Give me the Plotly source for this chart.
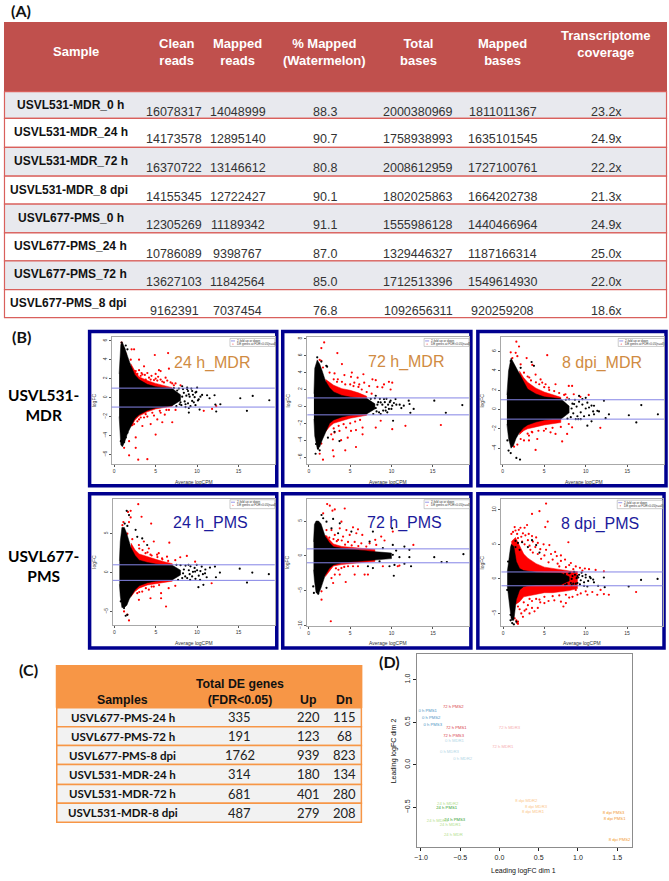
import plotly.graph_objects as go

W, H = 669, 881

# ---------- Table A ----------
A_HEADERS = ["Sample", "Clean<br>reads", "Mapped<br>reads", "% Mapped<br>(Watermelon)", "Total<br>bases", "Mapped<br>bases", "Transcriptome<br>coverage"]
A_SAMPLES = ["USVL531-MDR_0 h", "USVL531-MDR_24 h", "USVL531-MDR_72 h", "USVL531-MDR_8 dpi", "USVL677-PMS_0 h", "USVL677-PMS_24 h", "USVL677-PMS_72 h", "USVL677-PMS_8 dpi"]
A_CLEAN = ["16078317", "14173578", "16370722", "14155345", "12305269", "10786089", "13627103", "9162391"]
A_MAPPED = ["14048999", "12895140", "13146612", "12722427", "11189342", "9398767", "11842564", "7037454"]
A_PCT = ["88.3", "90.7", "80.8", "90.1", "91.1", "87.0", "85.0", "76.8"]
A_TOTAL = ["2000380969", "1758938993", "2008612959", "1802025863", "1555986128", "1329446327", "1712513396", "1092656311"]
A_MBASES = ["1811011367", "1635101545", "1727100761", "1664202738", "1440466964", "1187166314", "1549614930", "920259208"]
A_COVER = ["23.2x", "24.9x", "22.2x", "21.3x", "24.9x", "25.0x", "22.0x", "18.6x"]

# ---------- Table C ----------
C_HEADERS = ["Samples", "Total DE genes<br>(FDR<0.05)", "Up", "Dn"]
C_SAMPLES = ["USVL677-PMS-24 h", "USVL677-PMS-72 h", "USVL677-PMS-8 dpi", "USVL531-MDR-24 h", "USVL531-MDR-72 h", "USVL531-MDR-8 dpi"]
C_TOTAL = ["335", "191", "1762", "314", "681", "487"]
C_UP = ["220", "123", "939", "180", "401", "279"]
C_DN = ["115", "68", "823", "134", "280", "208"]

# ---------- MDS plot (D) ----------
MDS_LABELS = ["0 h PMS1", "0 h PMS2", "0 h PMS3", "72 h PMS2", "72 h PMS1", "72 h PMS3", "0 h MDR1", "0 h MDR3", "0 h MDR2",
              "72 h MDR3", "72 h MDR1", "8 dpi MDR2", "8 dpi MDR3", "8 dpi MDR1", "8 dpi PMS3", "8 dpi PMS1", "8 dpi PMS2",
              "24 h MDR2", "24 h PMS1", "24 h PMS3", "24 h MDR3", "24 h MDR1", "24 h MDR"]
MDS_X = [-0.914, -0.871, -0.85, -0.588, -0.55, -0.584, -0.575, -0.639, -0.47, 0.127, 0.042, 0.343, 0.465, 0.427, 1.455, 1.468, 1.531,
         -0.66, -0.673, -0.57, -0.79, -0.626, -0.588]
MDS_Y = [0.627, 0.553, 0.463, 0.681, 0.432, 0.339, 0.284, 0.148, 0.07, 0.428, 0.21, -0.42, -0.495, -0.549, -0.561, -0.631, -0.884,
         -0.465, -0.51, -0.643, -0.658, -0.70, -0.818]
MDS_COLORS = ["#4E94C4"] * 3 + ["#D8434E"] * 3 + ["#B4D6E6"] * 3 + ["#F6AEB0"] * 2 + ["#FBC88C"] * 3 + ["#F29A2E"] * 3 + ["#B4E08E"] + ["#33A02C"] * 2 + ["#B4E08E"] * 3

MDR24_BX = [0.6, 0.8, 1.0, 1.3, 1.6, 2, 2.5, 3, 4, 5, 6, 7, 8]
MDR24_BUP = [2.5, 5.6, 5.8, 5.2, 4.4, 3.4, 2.4, 1.9, 1.4, 1.15, 1.05, 0.95, 0.3]
MDR24_BLO = [-2.0, -5.0, -5.2, -4.6, -3.8, -3.0, -2.2, -1.8, -1.35, -1.1, -1.0, -0.85, -0.3]
MDR24_RX = [2, 2.5, 3, 4, 5, 6, 7]
MDR24_RUP = [3.6, 2.8, 2.2, 1.8, 1.5, 1.25, 1.05]
MDR24_RLO = [-3.1, -2.4, -1.95, -1.5, -1.2, -1.05, -0.9]
MDR24_RED = [(.9,5.8),(2.1,5.1),(2.4,5.1),(1.4,4.6),(2,4),(3,4),(4.9,4.5),(6.5,4.7),(3.6,3.3),(5.4,2.9),(5.6,2.8),(5,2.5),(6.6,3.05),(2.6,2.8),(3.4,2.45),(4.2,2.1),(3.8,1.9),(4.4,1.9),(4.8,1.85),(5.2,1.8),(5.6,1.9),(6.2,2.1),(6,1.6),(6.8,1.6),(7.4,1.5),(7.2,1.3),(8,1.3),(3.2,2.3),(2.8,2.5),(2.4,2.8),
             (3,2.9),(3.3,2.6),(3.7,2.4),(4,2.6),(4.5,2.3),(5,2),(5.3,2.2),(5.8,1.7),(6.4,1.8),(7,1.5),(3,-2.3),(3.2,-2.1),(4,-2),(4.8,-1.9),(5.5,-1.4),(6.3,-1.3),
             (1.8,-3),(2.2,-2.9),(2,-2.6),(2.4,-2.8),(2.8,-2.5),(3.6,-2.1),(3.4,-3),(4.4,-2.8),(3.8,-1.75),(4.6,-1.6),(5.2,-2.3),(5.8,-2.6),(6.1,-1.8),(7,-2.6),(5.6,-1.6),(6.6,-1.3),(7.4,-1.3),(5,-3.9),(1.8,-4.6),(2.6,-4.2),(1.2,-5.3),(2.6,-5.3),(1.8,-6.1),(2.9,-6.55),(4,-6.5),(1,-3.9),(10.8,-1.4),(11.8,-1.2),(12.3,-.9)]
MDR24_BLK = [(11.2,.25),(11.5,-.07),(12.1,.25),(12.2,-.74),(12.8,-.7),(12.3,-1.47),(15.2,-.07),(16.7,.18),(16,-1.4),(18.7,-.28),(10.3,-1.26),(9.8,-.8),(9,-1.58),(10.6,.28),(10.2,-.18),(9.8,.53),(9.4,.7),(10,1.05),(9,.35),(9.4,-.35),(8.8,1.05),(8.2,1.2),(8.6,-.7),(7.9,-.7),(.9,5.8),(1.4,5.5),(1.6,5.1),(.8,-4.6),(1.2,-4.7),(1.4,-4.2),(1.6,-3.7),
             (7.2,1),(7.5,-.9),(7.8,.95),(8.1,-.8),(8.3,.9),(8.4,.5),(8.5,-.4),(8.7,.2),(8.9,.7),(8.9,-.6),(9.1,.1),(9.2,-.9),(9.3,.95),(9.5,.3),(9.6,-.5),(9.7,.05),(9.9,.6),(10.1,-.3),(10.4,.1),(8.2,.1),(8,-.5),(8.6,-1),(7.6,.75),(9,-1.1),(8.8,.9)]

MDR72_BX = [0.6, 0.7, 1, 1.3, 1.6, 2, 2.5, 3, 4, 5, 6, 7, 8]
MDR72_BUP = [1.5, 4.5, 5.5, 5.0, 4.2, 3.0, 2.2, 1.7, 1.3, 1.1, 1.0, 0.95, 0.3]
MDR72_BLO = [-1.5, -3.5, -5, -4.8, -4.0, -3.0, -2.0, -1.6, -1.25, -1.05, -0.95, -0.9, -0.3]
MDR72_RX = [2, 2.5, 3, 4, 5, 6, 7]
MDR72_RUP = [3.2, 2.8, 2.5, 2.1, 1.9, 1.6, 1.2]
MDR72_RLO = [-3, -2.4, -2, -1.7, -1.4, -1.2, -1.05]
MDR72_RED = [(1.84,7.56),(1.5,6.9),(3.44,6.3),(4,5),(1.3,5.5),(1.5,5.4),(1.7,4.6),(2.5,4),(3.1,3.9),(4.3,3.7),(5.2,4),(5.9,3.4),(5.1,3.5),(6.6,3.8),(7.7,3.2),(8.1,3.1),(8.3,2.3),(8.9,2.25),(9.7,2.9),(10.1,2.8),(9.9,2),(9.1,2.6),(7.3,2.4),(6.7,2.8),(6.1,2.6),(5.5,2.8),(3.5,3.2),
             (3,3.2),(3.4,2.9),(4,2.9),(4.4,2.6),(5,2.6),(5.4,2.4),(6,2.3),(6.4,2),(7,1.7),(7.6,1.5),(3,-2.6),(3.6,-2.3),(4.2,-2.1),(5,-2),(5.6,-1.8),(6.2,-1.6),
             (1.7,-2.5),(2.7,-3.3),(3.1,-3.1),(3.7,-2.9),(4.5,-2.5),(5.1,-2.9),(5.7,-2.8),(6.5,-2.5),(8.1,-2.5),(8.7,-1.7),(10.1,-2.7),(11.7,-2.3),(16,-2.2),(5.7,-4.8),(4.4,-5.2),(2.9,-5.2),(3,-5.9),(1.7,-6.3),(1.3,-5.6),(1.1,-4.8),(1.5,-4.4),(3.9,-4),(4.7,-3.7),(6.5,-3.3),(2.9,-3.9)]
MDR72_BLK = [(1,5.8),(1.5,5.3),(2.1,4.8),(2.2,4.7),(.85,-4.45),(1.1,-5),(1.3,-5.2),(.8,-5.6),(3.7,-4.1),(2.3,-3.7),(3.1,-3),(15.2,.67),(18.6,.16),(16.6,-.75),(12.3,-.75),(10.2,-1.7),(12.1,.67),(12.2,.28),(11.5,.08),(11,.2),(11.2,-.2),(12.7,-.3),(10.5,.87),(9.9,.67),(10.1,.08),(9.7,-.3),(9.1,.87),(9.3,-.5),(8.7,.47),(8.5,-.7),(8.1,1.26),
             (7.5,.9),(7.8,-.9),(8,.95),(8.2,-.6),(8.4,.5),(8.6,.9),(8.7,-.9),(8.9,.2),(9,-.5),(9.2,.5),(9.4,.9),(9.5,-.7),(9.6,.2),(9.8,.5),(10,-.3),(10.3,.4),(10.6,.2),(8.3,.2),(8.1,-.2),(9.3,-.1)]

MDR8_BX = [0.5, 0.7, 1, 1.3, 1.6, 2, 2.5, 3, 4, 5, 6, 7, 8]
MDR8_BUP = [1.5, 4, 5.3, 4.8, 4.3, 3.6, 2.8, 2.1, 1.6, 1.3, 1.2, 1.1, 0.35]
MDR8_BLO = [-1.5, -3, -4, -3.7, -3.0, -2.4, -1.9, -1.6, -1.3, -1.1, -1, -1, -0.35]
MDR8_RX = [2, 2.5, 3, 4, 5, 6, 7]
MDR8_RUP = [4, 3.3, 2.8, 2.2, 1.8, 1.5, 1.25]
MDR8_RLO = [-2.6, -2.2, -2, -1.8, -1.6, -1.45, -1.35]
MDR8_RED = [(1.64,7),(1.96,6.5),(.96,5.9),(1.56,5.85),(1.16,5.3),(1.76,5.5),(2.88,5.3),(5.36,5.6),(2.16,4.66),(3.56,4.6),(2.56,3.8),(3.96,3.6),(4.56,3.1),(3.2,3.3),(5.56,2.26),(6.36,2.6),(5.16,2.6),(4.76,2.77),(7.96,2.43),(8.36,2.43),(7.56,1.57),(7.76,1.23),(8.56,1.57),(10.36,1.5),(9.36,1.3),
            (3,3.4),(3.4,3),(4,2.8),(4.4,2.6),(5,2.3),(5.6,2),(6.2,1.9),(6.8,1.7),(7.4,1.5),(3,-2.5),(3.5,-2.3),(4.3,-2.2),(5.2,-2),(6,-1.9),(7,-1.8),
            (2.36,-2.2),(2.16,-3.05),(3.16,-2.7),(4.16,-3.05),(3.16,-3.2),(2.56,-3.2),(3.96,-4.18),(1.76,-3.63),(1.36,-3.84),(7.16,-3.3),(5.76,-2.36),(6.36,-2.53),(7.76,-2.53),(4.96,-2.2),(8.36,-1.85),(11.76,-1.9),(7.96,-1.5),(3.56,-2.36)]
MDR8_BLK = [(.96,5),(3.48,4.9),(3.76,4.5),(2.16,4.3),(16.7,.45),(15.2,-.6),(16.1,-1.34),(18.7,-.5),(12.2,.9),(12.8,-.5),(12.4,-.9),(10.7,-1.23),(10.2,-1.68),(11.6,-.2),(11,-.5),(10,1.2),(9.6,1.06),(9.2,1.4),(11,.38),(11.4,-.14),(10.4,.2),(9.4,-1),(8.8,-1),(8.6,.55),(.7,-4.25),(.96,-4.5),(1.64,-5),(2.08,-5.17),(1.16,-3.7),(.56,-3.2),
            (7.6,1),(7.8,-.95),(8,1.05),(8.2,-.8),(8.4,.6),(8.5,-.4),(8.7,1),(8.9,.3),(9,-.7),(9.2,.8),(9.4,-.3),(9.6,.5),(9.8,-.7),(10,.1),(10.2,.7),(10.4,-.6),(10.7,.4),(10.9,-.2),(8.3,.1),(9.1,-1)]

PMS24_BX = [0.6, 0.7, 0.9, 1.2, 1.5, 1.8, 2, 2.5, 3, 4, 5, 6, 7, 8]
PMS24_BUP = [1.5, 4, 5.8, 5.8, 5, 3.8, 3.2, 2.2, 1.6, 1.3, 1.1, 1, 0.95, 0.3]
PMS24_BLO = [-1.5, -3, -4.5, -4.5, -4.2, -3.4, -3, -2.2, -1.7, -1.3, -1.1, -1, -0.95, -0.3]
PMS24_RX = [2, 2.5, 3, 4, 5, 6, 7]
PMS24_RUP = [3.8, 2.9, 2.4, 2, 1.7, 1.4, 1.15]
PMS24_RLO = [-3.1, -2.4, -2, -1.6, -1.4, -1.25, -1.1]
PMS24_RED = [(2.88,8.8),(1.96,7.95),(1.64,7.8),(1.96,7.1),(3.28,7.18),(4.44,6.3),(1.08,6.5),(.96,6.1),(1.76,6.5),(1.56,5),(2.16,4.3),(3.56,4),(4.76,4),(6.64,3.85),(4.16,3.1),(2.96,3.55),(3.76,2.5),(5.16,2.3),(5.76,1.84),(6.36,2.05),(7.96,1.97),(8.76,2.14),(9.76,1.4),(7.36,1.6),(5.36,2.5),(4.36,2.3),
             (3,3.1),(3.4,2.9),(4,2.6),(4.5,2.2),(5.2,2),(5.8,1.7),(6.5,1.5),(3,-2.5),(3.8,-2),(4.5,-1.8),(5.4,-1.6),
             (1.96,-2.2),(2.76,-2.65),(3.36,-2.44),(4.16,-2.2),(4.76,-1.8),(5.64,-2.65),(6.56,-2),(7.36,-1.7),(6.24,-4.36),(5.64,-3.3),(1.76,-6.15),(1.56,-5.4),(1.16,-5),(11.76,-1.37),(2.96,-3.5),(4.36,-3.3),(2.56,-2.2)]
PMS24_BLK = [(1.48,7.95),(1.76,7.4),(1.24,6.3),(1.56,6),(2.56,5.5),(2.76,4.6),(3.36,4.4),(3.96,3.55),(15.16,.5),(16.68,0),(16.04,-1.28),(18.68,-.2),(11.56,.64),(12.16,.77),(12.28,-.6),(12.76,0),(10.16,-1.88),(10.76,-1.58),(10.96,-.1),(11.16,-.6),(10.56,.77),(9.96,1),(9.76,.13),(10.36,-.94),(8.96,1),(9.16,-.94),(8.56,-.5),(.76,-3.7),(1.16,-4.57),(1.56,-5.43),(1.36,-5.55),
             (7.5,1),(7.7,-.95),(8,.95),(8.2,-.7),(8.4,.4),(8.6,.9),(8.8,-.7),(9,.3),(9.2,.8),(9.4,-.5),(9.5,.1),(9.7,.6),(9.8,-.8),(10,.3),(10.2,-.4),(10.4,.2),(10.7,-.2),(11,.4),(8.3,-.1),(9.1,-.2)]

PMS72_BX = [0.6, 0.7, 0.9, 1.2, 1.5, 1.8, 2, 2.5, 3, 4, 5, 6, 7, 8, 9, 10]
PMS72_BUP = [2, 4.5, 5, 5, 4.6, 3.6, 2.8, 1.9, 1.3, 1.1, 0.95, 0.8, 0.7, 0.6, 0.5, 0.4]
PMS72_BLO = [-2, -3.5, -5.3, -5.5, -4.6, -3.6, -2.8, -1.8, -1.3, -1, -0.9, -0.75, -0.7, -0.6, -0.5, -0.4]
PMS72_RX = [2, 3, 4, 5, 6, 7, 8]
PMS72_RUP = [3, 1.7, 1.35, 1.2, 1.1, 1, 0.9]
PMS72_RLO = [-3, -1.45, -1.25, -1.1, -1, -0.9, -0.8]
PMS72_RED = [(2.24,7.43),(2.56,7.2),(1.76,6.1),(3.16,6.67),(2.88,6.48),(4.36,6.8),(3.96,4.9),(2.16,3.7),(2.76,3.7),(3.76,3.95),(4.56,3.7),(5.36,4.1),(5.96,3.8),(4.16,2.76),(4.96,3),(5.76,3.24),(6.48,3),(4.76,2),(5.56,2),(6.36,1.8),(3.56,2.3),(3.16,3),(2.16,2.76),(8.04,2.3),(8.76,2.76),(10.16,3.48),(9.16,2.2),(12.64,1.57),(8.16,1.57),(7.36,1.8),(6.96,1.33),(3.4,2.1),(4,2.2),(4.4,1.6),(5.2,1.5),(6,1.4),(3,2.4),(2.5,2.6),
             (2.76,-3.2),(2.96,-3.9),(3.16,-2.7),(3.96,-1.76),(3.76,-2.7),(4.48,-3.76),(5.56,-2.7),(5.36,-1.5),(5.96,-1.5),(6.76,-2.7),(7.16,-2.7),(8.96,-1.5),(10.76,-1.5),(10.96,-1.4),(1.56,-6.3),(2.68,-9.4),(1.56,-5.1),(4.76,-1.5),(3.3,-1.8),(4.3,-1.6),(3.6,-2)]
PMS72_BLK = [(1.56,5.86),(1.76,5.4),(2.96,5.3),(2.16,4.9),(3.76,4.67),(2.76,3.95),(3.56,3.24),(7.76,3.48),(10.08,3.95),(5.16,3.48),(7.36,2.05),(8.96,1.1),(10.16,1.57),(11.56,1.33),(12.16,.86),(12.16,-.2),(10.56,.76),(10.96,-.2),(10.36,-1.3),(10.28,-2.86),(12.36,-1.5),(11.56,-1.14),(9.76,-1.5),(7.76,-1.76),(15.16,-.2),(16.04,-.9),(16.68,-.9),(18.68,.24),(.64,-5.33),(1.16,-5.43),(2.16,-4.6),(.56,-4.4),(7.16,-1.5),(8.56,-.8),(9.76,.14),(10.16,.14)]

PMS8_BX = [0.5, 0.7, 0.9, 1, 1.3, 1.6, 2, 2.5, 3, 4, 5, 6, 7, 8]
PMS8_BUP = [1, 3, 4.6, 5, 4.7, 2.5, 1.5, 1.2, 1.1, 0.95, 0.9, 0.85, 0.85, 0.3]
PMS8_BLO = [-1, -3, -5, -6, -6, -3, -1.6, -1.1, -1, -0.9, -0.85, -0.85, -0.85, -0.3]
PMS8_RX = [1, 1.5, 2, 2.5, 3, 4, 5, 6, 7, 8, 9]
PMS8_RUP = [5.4, 6, 4.8, 3.6, 3, 2.2, 1.7, 1.5, 1.3, 1.15, 1.05]
PMS8_RLO = [-1, -3.7, -3.3, -2.6, -2.4, -2.2, -2, -2, -1.9, -1.7, -1.4]
PMS8_RED = [(1,6.5),(1.2,6.8),(1.4,7.5),(1.5,7),(1.7,6.5),(1.9,7.1),(2.1,7.4),(2.4,6.6),(2.6,7.4),(2.9,7.8),(3.5,9.4),(4.4,9.8),(5.2,10.9),(5.4,8.3),(5.1,7.5),(2.2,6.1),(2.7,6.3),(3.1,6.5),(3.5,6.2),(4,6),(3,5.6),(3.6,5.4),(4.2,5.2),(4.9,5),(5.6,4.9),(7.9,5.3),(6.3,3.9),(2.6,5),(3.2,4.8),(3.9,4.6),(4.5,4.3),(5.2,4.2),(5.8,3.6),(6.5,3.3),(7,3.4),(7.5,2.8),(8.2,2.3),(7,2.6),(6,2.8),(5,3.4),(4.2,3.6),(3.6,3.8),(8.8,1.8),(9.3,1.6),(9.9,1.5),(10.4,1.4),(11.2,1.3),(12.2,1.1),(8,2),(6.6,2.2),(5.5,2.4),(4.6,2.9),(3.3,4.2),(2.3,5.4),(1.8,5.9),(6.8,1.8),(7.6,1.7),(8.5,1.4),(9.6,1.2),
            (1.8,-4),(2,-4.4),(2.2,-5),(2.4,-5.5),(2.6,-4.6),(2.8,-4.4),(3,-3.8),(3.2,-5),(3.5,-4.2),(3.8,-4.7),(4.2,-4.2),(4.5,-3.4),(5,-3.5),(5.5,-3.2),(6.2,-3.1),(7,-3.3),(7.3,-4),(7.6,-3.5),(8,-2.7),(8.4,-2.6),(9,-2.3),(9.4,-2.1),(10,-1.8),(10.2,-2.3),(10.8,-1.9),(11.4,-2.3),(11.8,-1.6),(12.2,-2.2),(12.8,-2.3),(16.1,-1.9),(1.8,-6.2),(1.7,-6.4),(1.8,-6.5),(1.4,-5.7),(1.6,-6),(3.2,-2.9),(4,-2.9),(5,-2.6),(6,-2.5),(6.8,-2.4),(7.6,-2.3),(8.8,-1.6),(2.5,-3.4),(3.5,-3.2),(4.4,-3)]
PMS8_BLK = [(1.5,5.5),(1.8,5.2),(2.3,5.3),(3.5,5.6),(4,4.9),(3,4.6),(2,4.2),(1.5,4.6),(4.4,3.8),(15.2,-1.1),(16.7,-.15),(18.7,0),(12.2,.2),(12.3,-1.2),(11.5,-1),(11,-.5),(10.5,.3),(10,.6),(9.5,.9),(9,.4),(8.8,-.7),(9.3,-.8),(10.2,-1.1),(9.8,-1),(8.6,1),(8.1,.9),(8.3,-.9),(7.5,-.9),(1.1,-6.4),(1.3,-6.6),(.9,-6),(1.6,-6.2),(.5,-1.6),(.6,2.5),(.9,-5.2),
            (7.5,.7),(7.7,-.75),(8,.8),(8.2,-.6),(8.4,.4),(8.5,-.7),(8.7,.6),(8.9,.1),(9,-.6),(9.2,.6),(9.4,-.2),(9.6,.4),(9.8,-.5),(10,.2),(10.3,-.3),(10.6,.1),(10.9,-.1),(8.3,0),(9.1,.2)]

MA_TITLES = ["24 h_MDR", "72 h_MDR", "8 dpi_MDR", "24 h_PMS", "72 h_PMS", "8 dpi_PMS"]
MA_XTICKS = [0, 5, 10, 15]
MA_YTICKS = [[-6, -4, -2, 0, 2, 4, 6], [-6, -4, -2, 0, 2, 4, 6, 8], [-4, -2, 0, 2, 4, 6], [-5, 0, 5], [-10, -5, 0, 5], [-5, 0, 5, 10]]
MDS_XTICKS = [-1.0, -0.5, 0.0, 0.5, 1.0, 1.5]
MDS_YTICKS = [-0.5, 0.0, 0.5, 1.0]

DATA = [
    (MDR24_BX, MDR24_BUP, MDR24_BLO, MDR24_RX, MDR24_RUP, MDR24_RLO, MDR24_RED, MDR24_BLK),
    (MDR72_BX, MDR72_BUP, MDR72_BLO, MDR72_RX, MDR72_RUP, MDR72_RLO, MDR72_RED, MDR72_BLK),
    (MDR8_BX, MDR8_BUP, MDR8_BLO, MDR8_RX, MDR8_RUP, MDR8_RLO, MDR8_RED, MDR8_BLK),
    (PMS24_BX, PMS24_BUP, PMS24_BLO, PMS24_RX, PMS24_RUP, PMS24_RLO, PMS24_RED, PMS24_BLK),
    (PMS72_BX, PMS72_BUP, PMS72_BLO, PMS72_RX, PMS72_RUP, PMS72_RLO, PMS72_RED, PMS72_BLK),
    (PMS8_BX, PMS8_BUP, PMS8_BLO, PMS8_RX, PMS8_RUP, PMS8_RLO, PMS8_RED, PMS8_BLK),
]

# ---------- layout geometry in pixels ----------
FRAMES = [(87, 332, 275, 487), (281, 332, 470, 487), (477, 332, 666, 487),
          (87, 495, 275, 650), (281, 495, 470, 650), (477, 495, 664, 650)]
BOXES = [(109, 338, 273, 465), (305.7, 338, 468, 465), (500, 338, 664, 465),
         (110.3, 500, 273, 627.3), (305.3, 500, 468.5, 628), (500.7, 500.7, 662.5, 627.7)]
X_RANGES = [(-0.32, 19.36), (-0.2, 19.4), (-0.24, 19.44), (-0.2, 19.4), (-0.2, 19.4), (-0.2, 19.3)]
Y_RANGES = [(-7.0, 6.35), (-6.8, 8.15), (-5.62, 7.43), (-6.8, 9.5), (-10.1, 8.2), (-6.8, 11.5)]
TITLE_POS = [(210, 364), (405, 363), (602, 364), (208, 524), (403, 524), (600, 525)]
TITLE_COL = ["#D08B42"] * 3 + ["#1B1B9C"] * 3
LOGFC_X = [91, 286, 481, 91, 286, 481]
AVG_POS = [(192, 483), (387, 483), (584, 483), (192, 645), (387, 645), (582, 645)]
LEG_BOX = [(228, 339, 273, 347), (423, 339, 468, 347), (618, 339, 664, 347),
           (228, 501, 273, 510), (423, 501, 468.5, 510), (617, 501.5, 662.5, 510)]
MDS_BOX = (415.7, 656, 632.3, 850)
MDS_XR = (-1.053, 1.695)
MDS_YR = (-0.966, 1.30)

shapes, annos = [], []
BODY = "Liberation Sans"
CAL = "Lato"


def px(x):
    return x / W


def py(y):
    return 1 - y / H


def rect(x0, y0, x1, y1, fill=None, line=None, lw=0, layer="below"):
    shapes.append(dict(type="rect", xref="paper", yref="paper", x0=px(x0), x1=px(x1), y0=py(y0), y1=py(y1),
                       fillcolor=fill if fill else "rgba(0,0,0,0)",
                       line=dict(color=line if line else "rgba(0,0,0,0)", width=lw), layer=layer))


def txt(x, y, s, size, color="#000000", weight=400, family=BODY, anchor="center", angle=0):
    annos.append(dict(xref="paper", yref="paper", x=px(x), y=py(y), text=s, showarrow=False, xanchor=anchor, yanchor="middle",
                      textangle=angle, borderpad=0, borderwidth=0,
                      font=dict(size=size, color=color, family=family, weight=weight)))


# panel letters
txt(8, 10, "(A)", 16, "#111111", 700, CAL, "left")
txt(9, 337, "(B)", 16, "#111111", 700, CAL, "left")
txt(16, 672, "(C)", 16, "#111111", 700, CAL, "left")
txt(378, 664, "(D)", 16, "#111111", 700, CAL, "left")

# Table A
RED_H = "#C0504D"
RED_L = "#D9605C"
GREY = "#E8E9EE"
A_EDGES = [91, 118, 147, 176, 204, 233, 261, 290, 318]
A_LAB_CX = [68, 68, 68, 66, 68, 68, 68, 66]
A_NUM_CX = [172, 236, 323, 417, 502, 606]
A_HEAD_CX = [73, 174, 236, 323, 417, 502, 606]
rect(1, 21, 667, 91, fill=RED_H)
for i, s in enumerate(A_HEADERS):
    yy = 43.5 if i == 6 else 51
    txt(A_HEAD_CX[i], yy, s, 13, "#FFFFFF", 700)
A_COLS = [A_CLEAN, A_MAPPED, A_PCT, A_TOTAL, A_MBASES, A_COVER]
for r, s in enumerate(A_SAMPLES):
    t, b = A_EDGES[r], A_EDGES[r + 1]
    rect(1.5, t, 666.5, b, fill=GREY if r % 2 == 0 else "#FFFFFF", line=RED_L, lw=1.2)
    txt(A_LAB_CX[r], t + 13.5, s, 12, "#111111", 700)
    for c, col in enumerate(A_COLS):
        txt(A_NUM_CX[c], t + 21, col[r], 12.5, "#333333")

# Row labels B
txt(41, 405.5, "USVL531-<br>MDR", 15.5, "#000000", 700, CAL)
txt(41, 567.5, "USVL677-<br>PMS", 15.5, "#000000", 700, CAL)

# Table C
ORG = "#F79646"
C_EDGES = [710, 729, 748, 767, 787, 806, 825]
C_CX = [120.5, 238, 306.7, 342.7]
rect(53, 667, 361, 710, fill=ORG)
txt(C_CX[0], 702, C_HEADERS[0], 12.3, "#111111", 700)
txt(C_CX[1], 694.5, C_HEADERS[1], 12.3, "#111111", 700)
txt(C_CX[2], 702, C_HEADERS[2], 12.3, "#111111", 700)
txt(C_CX[3], 702, C_HEADERS[3], 12.3, "#111111", 700)
for r, s in enumerate(C_SAMPLES):
    t, b = C_EDGES[r], C_EDGES[r + 1]
    rect(54, t, 360, b, fill="#F2F2F2", line=ORG, lw=1.5)
    m = (t + b) / 2
    txt(C_CX[0], m, s, 11.5, "#111111", 700, CAL)
    txt(C_CX[1], m, C_TOTAL[r], 13, "#222222", 400, CAL)
    txt(C_CX[2], m, C_UP[r], 13, "#222222", 400, CAL)
    txt(C_CX[3], m, C_DN[r], 13, "#222222", 400, CAL)

fig = go.Figure()
axes = {}
for i in range(6):
    n = i + 1
    xa = "x" if n == 1 else f"x{n}"
    ya = "y" if n == 1 else f"y{n}"
    xk = "xaxis" if n == 1 else f"xaxis{n}"
    yk = "yaxis" if n == 1 else f"yaxis{n}"
    fx0, fy0, fx1, fy1 = FRAMES[i]
    rect(fx0, fy0, fx1, fy1, line="#00008F", lw=3.5, fill="#FFFFFF")
    bx0, by0, bx1, by1 = BOXES[i]
    axes[xk] = dict(domain=[px(bx0), px(bx1)], anchor=ya, range=list(X_RANGES[i]), tickmode="array",
                    tickvals=MA_XTICKS, ticktext=[str(v) for v in MA_XTICKS], ticks="outside", ticklen=2, tickwidth=0.6,
                    tickcolor="#555555", tickfont=dict(size=5, color="#333333", family=BODY), showgrid=False, zeroline=False,
                    showline=True, mirror=True, linecolor="#A8A8A8", linewidth=1)
    axes[yk] = dict(domain=[py(by1), py(by0)], anchor=xa, range=list(Y_RANGES[i]), tickmode="array",
                    tickvals=MA_YTICKS[i], ticktext=[str(v).replace("-", "\u2212") for v in MA_YTICKS[i]], ticks="outside", ticklen=2,
                    tickwidth=0.6, tickcolor="#555555", tickangle=-90,
                    tickfont=dict(size=5, color="#333333", family=BODY), showgrid=False, zeroline=False,
                    showline=True, mirror=True, linecolor="#A8A8A8", linewidth=1)
    bxv, bup, blo, rxv, rup, rlo, red, blk = DATA[i]
    fig.add_trace(go.Scatter(x=rxv + rxv[::-1], y=rup + rlo[::-1], mode="lines", fill="toself", fillcolor="#FF0000",
                             line=dict(width=0.5, color="#FF0000"), xaxis=xa, yaxis=ya, hoverinfo="skip", showlegend=False))
    fig.add_trace(go.Scatter(x=[p[0] for p in red], y=[p[1] for p in red], mode="markers", marker=dict(size=2.2, color="#FF0000"),
                             xaxis=xa, yaxis=ya, hoverinfo="skip", showlegend=False))
    fig.add_trace(go.Scatter(x=bxv + bxv[::-1], y=bup + blo[::-1], mode="lines", fill="toself", fillcolor="#000000",
                             line=dict(width=0.5, color="#000000"), xaxis=xa, yaxis=ya, hoverinfo="skip", showlegend=False))
    fig.add_trace(go.Scatter(x=[p[0] for p in blk], y=[p[1] for p in blk], mode="markers", marker=dict(size=2.2, color="#000000"),
                             xaxis=xa, yaxis=ya, hoverinfo="skip", showlegend=False))
    for v in (1, -1):
        shapes.append(dict(type="line", xref=f"{xa} domain", yref=ya, x0=0, x1=1, y0=v, y1=v,
                           line=dict(color="#8484E6", width=1), layer="above"))
    # small legend
    l0, l1, l2, l3 = LEG_BOX[i]
    rect(l0, l1, l2, l3, fill="#FFFFFF", line="#999999", lw=0.5, layer="above")
    shapes.append(dict(type="line", xref="paper", yref="paper", x0=px(l0 + 1), x1=px(l0 + 5), y0=py(l1 + 2.5), y1=py(l1 + 2.5),
                       line=dict(color="#6C6CE0", width=0.7), layer="above"))
    shapes.append(dict(type="circle", xref="paper", yref="paper", x0=px(l0 + 2.5), x1=px(l0 + 3.5), y0=py(l1 + 6), y1=py(l1 + 5),
                       fillcolor="#FF0000", line=dict(width=0), layer="above"))
    txt(l0 + 7, l1 + 2.5, "2-fold up or down", 3, "#333333", anchor="left")
    txt(l0 + 7, l1 + 5.5, "DE genes at FDR<0.05(n=all)", 3, "#333333", anchor="left")
    txt(TITLE_POS[i][0], TITLE_POS[i][1], MA_TITLES[i], 16, TITLE_COL[i])
    txt(LOGFC_X[i], (by0 + by1) / 2, "logFC", 5, "#333333", angle=-90)
    txt(AVG_POS[i][0], AVG_POS[i][1], "Average logCPM", 5, "#333333")

# MDS panel
bx0, by0, bx1, by1 = MDS_BOX
axes["xaxis7"] = dict(domain=[px(bx0), px(bx1)], anchor="y7", range=list(MDS_XR), tickmode="array", tickvals=MDS_XTICKS,
                      ticktext=[f"{v:.1f}".replace("-", "\u2212") for v in MDS_XTICKS], ticks="outside", ticklen=3, tickwidth=0.7, tickcolor="#222222",
                      tickfont=dict(size=7, color="#222222", family=BODY), showgrid=False, zeroline=False, showline=True, mirror=True,
                      linecolor="#8C8C8C", linewidth=1.2)
axes["yaxis7"] = dict(domain=[py(by1), py(by0)], anchor="x7", range=list(MDS_YR), tickmode="array", tickvals=MDS_YTICKS,
                      ticktext=[f"{v:.1f}".replace("-", "\u2212") for v in MDS_YTICKS], ticks="outside", ticklen=3, tickwidth=0.7, tickcolor="#222222",
                      tickangle=-90, tickfont=dict(size=7, color="#222222", family=BODY), showgrid=False, zeroline=False, showline=True,
                      mirror=True, linecolor="#8C8C8C", linewidth=1.2)
fig.add_trace(go.Scatter(x=MDS_X, y=MDS_Y, text=MDS_LABELS, mode="text", xaxis="x7", yaxis="y7", hoverinfo="skip", showlegend=False,
                         textposition="middle center", textfont=dict(size=4.2, color=MDS_COLORS, family=BODY)))
txt(523, 874, "Leading logFC dim 1", 7, "#111111", 500)
txt(392.5, 753, "Leading logFC dim 2", 7, "#111111", 500, angle=-90)

fig.update_layout(width=W, height=H, autosize=False, margin=dict(l=0, r=0, t=0, b=0, pad=0), paper_bgcolor="#FFFFFF", plot_bgcolor="rgba(0,0,0,0)",
                  showlegend=False, shapes=shapes, annotations=annos, **axes)
fig.write_html("out.html", config=dict(displayModeBar=False, responsive=False),
               post_script="document.body.style.margin='0';document.documentElement.style.overflow='hidden';")
